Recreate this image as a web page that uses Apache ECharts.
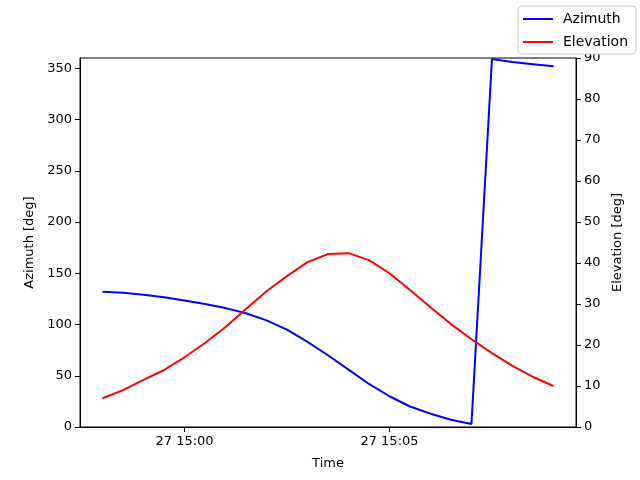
<!DOCTYPE html>
<html><head><meta charset="utf-8">
<script src="https://cdn.jsdelivr.net/npm/echarts@6/dist/echarts.min.js"></script>
<style>html,body{margin:0;padding:0;background:#fff}#c{width:640px;height:480px}</style>
</head><body><div id="c"></div>
<script>
const times = ['14:58:00','14:58:30','14:59:00','14:59:30','15:00:00','15:00:30','15:01:00','15:01:30','15:02:00','15:02:30','15:03:00','15:03:30','15:04:00','15:04:30','15:05:00','15:05:30','15:06:00','15:06:30','15:07:00','15:07:30','15:08:00','15:08:30','15:09:00'];
const azimuth = [132,131,129,126.5,123.5,120,116,111,104,95,83,70,56,42,30,20,13,7,3,359,356,354,352];
const elevation = [7.0,9.0,11.5,13.9,17.0,20.5,24.4,28.8,33.1,36.8,40.2,42.2,42.4,40.7,37.5,33.4,29.2,25.1,21.4,18.0,14.9,12.2,10.0];
const xTicks = ['15:00:00','15:05:00'];
const day = '2024/01/27 ';
const toMs = t => new Date(day + t).getTime();
const azData = times.map((t,i)=>[toMs(t), azimuth[i]]);
const elData = times.map((t,i)=>[toMs(t), elevation[i]]);
const tickMs = xTicks.map(toMs);
const font = 'DejaVu Sans';
const chart = echarts.init(document.getElementById('c'));
const axisCommon = {
  axisLine:{show:true,lineStyle:{color:'#000',width:1}},
  axisTick:{show:true,length:5,lineStyle:{color:'#000'}},
  axisLabel:{color:'#000',fontFamily:font,fontSize:13},
  splitLine:{show:false},
  nameTextStyle:{color:'#000',fontFamily:font,fontSize:13}
};
chart.setOption({
  animation:false,
  textStyle:{fontFamily:font},
  grid:{left:80,right:64,top:58,bottom:53,show:true,borderColor:'#000',borderWidth:1,containLabel:false},
  legend:{
    orient:'vertical',right:4,top:6,
    data:['Azimuth','Elevation'],
    icon:'rect',itemWidth:30,itemHeight:2,itemGap:9,
    textStyle:{color:'#000',fontFamily:font,fontSize:14,padding:[0,0,0,5]},
    borderColor:'#ccc',borderWidth:1,borderRadius:4,padding:[6,8,5,5],
    backgroundColor:'#fff'
  },
  xAxis:Object.assign({},axisCommon,{
    type:'value',scale:true,
    min:toMs('14:57:27'),max:toMs('15:09:33'),
    name:'Time',nameLocation:'middle',nameGap:30,
    axisTick:{show:true,length:5,lineStyle:{color:'#000'},customValues:tickMs},
    axisLabel:Object.assign({},axisCommon.axisLabel,{
      margin:8,customValues:tickMs,
      formatter:v=>{const d=new Date(v);const p=n=>String(n).padStart(2,'0');return d.getDate()+' '+p(d.getHours())+':'+p(d.getMinutes());}
    })
  }),
  yAxis:[
    Object.assign({},axisCommon,{type:'value',min:0,max:360,interval:50,position:'left',
      name:'Azimuth [deg]',nameLocation:'middle',nameGap:44}),
    Object.assign({},axisCommon,{type:'value',min:0,max:90,interval:10,position:'right',
      name:'Elevation [deg]',nameLocation:'middle',nameGap:35,nameRotate:90})
  ],
  series:[
    {name:'Azimuth',type:'line',yAxisIndex:0,data:azData,showSymbol:false,color:'#0000ff',lineStyle:{width:2,color:'#0000ff'}},
    {name:'Elevation',type:'line',yAxisIndex:1,data:elData,showSymbol:false,color:'#ff0000',lineStyle:{width:2,color:'#ff0000'}}
  ]
});
</script></body></html>
